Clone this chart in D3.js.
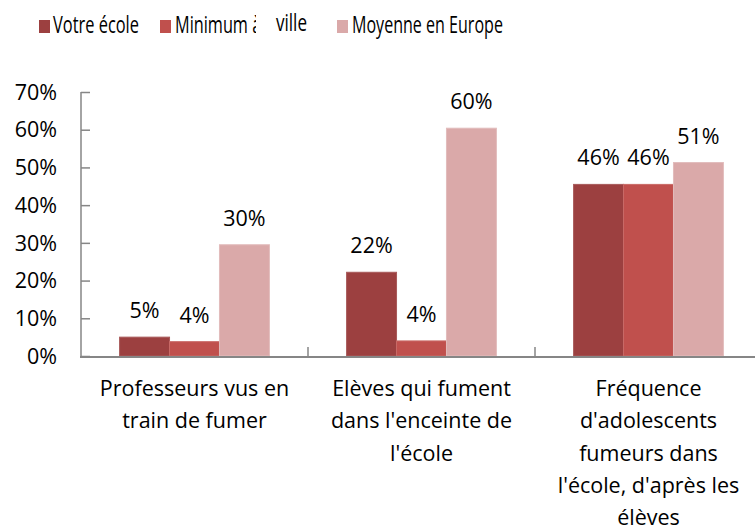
<!DOCTYPE html>
<html><head><meta charset="utf-8">
<script src="https://cdn.jsdelivr.net/npm/d3@7"></script>
<style>body{margin:0;background:#fff}svg{display:block}text{font-family:"Open Sans",Lato,sans-serif;fill:#000}</style>
</head><body><svg id="c" width="755" height="530"></svg>
<script>
const categories = [
  ["Professeurs vus en","train de fumer"],
  ["Elèves qui fument","dans l'enceinte de","l'école"],
  ["Fréquence","d'adolescents","fumeurs dans","l'école, d'après les","élèves"]
];
const seriesNames = ["Votre école","Minimum à la ville","Moyenne en Europe"];
const votreEcole = [0.05, 0.222, 0.455];
const minimumVille = [0.038, 0.04, 0.455];
const moyenneEurope = [0.295, 0.604, 0.513];
const dataLabels = [["5%","22%","46%"],["4%","4%","46%"],["30%","60%","51%"]];
const yTicks = [0,0.1,0.2,0.3,0.4,0.5,0.6,0.7];
const colors = ["#9c4040","#c0504d","#daa9a9"];
const strokes = ["#a85a5a","#c96a67","#e2bcbc"];

const series = [votreEcole, minimumVille, moyenneEurope];
const svg = d3.select("#c");
const fs = 21.5;
const x0 = d3.scaleBand().domain(d3.range(categories.length)).range([81, 762]);
const barW = x0.bandwidth()*0.22;
const y = d3.scaleLinear().domain([0,0.7]).range([356, 92]);

// bars
series.forEach((vals, s) => {
  svg.append("g").selectAll("rect").data(vals).join("rect")
    .attr("x", (d,i) => x0(i) + x0.bandwidth()/2 + (s-1.5)*barW)
    .attr("y", d => y(d))
    .attr("width", barW)
    .attr("height", d => y(0)-y(d))
    .attr("fill", colors[s])
    .attr("stroke", strokes[s]).attr("stroke-width", 1);
  svg.append("g").selectAll("text").data(vals).join("text")
    .attr("x", (d,i) => x0(i) + x0.bandwidth()/2 + (s-1)*barW)
    .attr("y", d => y(d) - 19)
    .attr("text-anchor","middle").style("font-size", fs+"px")
    .text((d,i) => dataLabels[s][i]);
});

// y axis
const yAxis = d3.axisRight(y).tickValues(yTicks).tickSize(9).tickFormat("");
const gy = svg.append("g").attr("transform","translate(81,0)").call(yAxis);
gy.select(".domain").remove();
gy.selectAll("line").attr("stroke","#868686").attr("stroke-width",1.5);
svg.append("line").attr("x1",81).attr("x2",81).attr("y1",y(0.7)).attr("y2",y(0)).attr("stroke","#868686").attr("stroke-width",1.5);
svg.append("g").selectAll("text").data(yTicks).join("text")
  .attr("x",57).attr("y",d=>y(d)).attr("dy","0.36em").attr("text-anchor","end")
  .style("font-size", fs+"px").text(d3.format(".0%"));

// x axis
const xSep = [1,2].map(i => x0(i));
svg.append("g").selectAll("line").data(xSep).join("line")
  .attr("x1",d=>d).attr("x2",d=>d).attr("y1",y(0)-9).attr("y2",y(0))
  .attr("stroke","#868686").attr("stroke-width",1.5);
svg.append("line").attr("x1",80).attr("x2",755).attr("y1",y(0)+1).attr("y2",y(0)+1).attr("stroke","#868686").attr("stroke-width",2);

// category labels
categories.forEach((lines,i) => {
  const t = svg.append("text").attr("text-anchor","middle").style("font-size", fs+"px");
  lines.forEach((l,j) => t.append("tspan").attr("x", x0(i)+x0.bandwidth()/2).attr("y", 396 + j*32.3).text(l));
});

// legend (condensed text as in the reference)
const legX = [39, 160, 337];
svg.append("defs").append("clipPath").attr("id","clipMin").append("rect").attr("x",0).attr("y",-30).attr("width",78).attr("height",60);
seriesNames.forEach((n,s) => {
  svg.append("rect").attr("x",legX[s]).attr("y",20).attr("width",11).attr("height",13).attr("fill",colors[s]);
});
const lfs = 23;
function legText(x, yy, str, len, refStr) {
  const t = svg.append("text").style("font-size",lfs+"px").text(refStr || str);
  const w = t.node().getComputedTextLength();
  const sx = len / w;
  t.text(str).attr("transform", `translate(${x},${yy}) scale(${sx},1)`);
  return {t, sx};
}
legText(53, 33, seriesNames[0], 86);
const mn = legText(175, 33, "Minimum à", 73, "Minimum");
svg.select("#clipMin rect").attr("width", 81 / mn.sx);
mn.t.attr("clip-path","url(#clipMin)");
legText(276, 31, "ville", 31);
legText(352, 33, seriesNames[2], 151);
</script></body></html>
